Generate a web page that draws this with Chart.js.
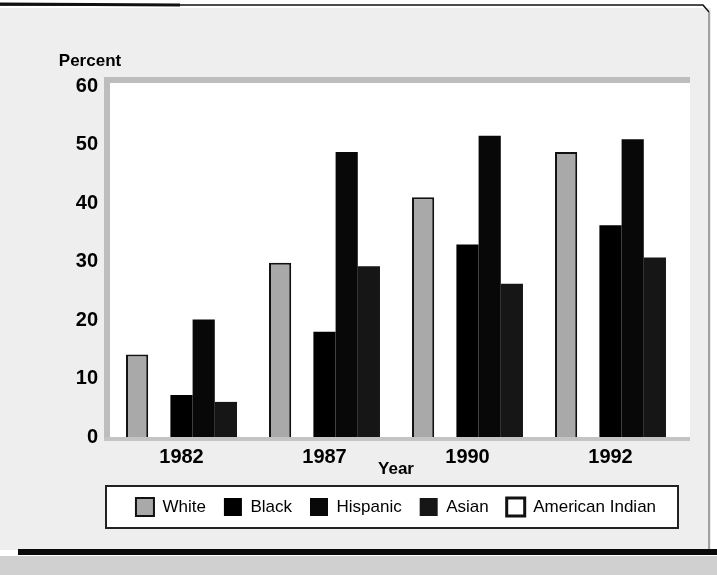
<!DOCTYPE html>
<html>
<head>
<meta charset="utf-8">
<script src="https://cdn.jsdelivr.net/npm/chart.js@4/dist/chart.umd.min.js"></script>
<style>
html,body{margin:0;padding:0;background:#fff;}
canvas{display:block;}
</style>
</head>
<body>
<canvas id="c" width="717" height="575"></canvas>
<script>
// ---- data ----
const years = ['1982', '1987', '1990', '1992'];
const white = [14.1, 29.8, 41.0, 48.7];
const americanIndian = [null, null, null, null];
const black = [7.2, 18.0, 32.9, 36.2];
const hispanic = [20.1, 48.7, 51.5, 50.9];
const asian = [6.0, 29.2, 26.2, 30.7];
const yMin = 0, yMax = 60, yStep = 10;
const yAxisLabel = 'Percent';
const xAxisLabel = 'Year';
// legend order as in the original
const legendRank = [0, 4, 1, 2, 3];

const FONT = '"Liberation Sans", Arial, Helvetica, sans-serif';

const decor = {
  id: 'decor',
  beforeDraw(chart) {
    const {ctx, chartArea: a, width, height} = chart;
    ctx.save();
    ctx.fillStyle = '#ffffff';
    ctx.fillRect(0, 0, width, height);
    // speckled outer area
    ctx.fillStyle = '#eeeeee';
    ctx.fillRect(0, 8, width - 6, 542);
    // plot panel
    ctx.fillStyle = '#bdbdbd';
    ctx.fillRect(a.left - 6, a.top - 9, a.right - a.left + 14, 6);
    ctx.fillRect(a.left - 6, a.top - 9, 6, a.bottom - a.top + 9);
    ctx.fillStyle = '#ffffff';
    ctx.fillRect(a.left, a.top - 3, a.right - a.left + 8, a.bottom - a.top + 3);
    ctx.fillStyle = '#c4c4c4';
    ctx.fillRect(a.left - 6, a.bottom, a.right - a.left + 14, 4);
    // legend box
    const lg = chart.legend;
    if (lg && lg.legendHitBoxes && lg.legendHitBoxes.length) {
      const hb = lg.legendHitBoxes[0];
      const cy = hb.top + hb.height / 2;
      ctx.fillStyle = '#ffffff';
      ctx.fillRect(a.left - 4, cy - 21, a.right - a.left, 42);
      ctx.strokeStyle = '#222';
      ctx.lineWidth = 2;
      ctx.strokeRect(a.left - 4, cy - 21, a.right - a.left, 42);
    }
    ctx.restore();
  },
  afterDraw(chart) {
    const {ctx, chartArea: a, width} = chart;
    ctx.save();
    // axis label "Percent"
    ctx.fillStyle = '#000';
    ctx.font = 'bold 17px ' + FONT;
    ctx.textAlign = 'center';
    ctx.textBaseline = 'middle';
    ctx.fillText(yAxisLabel, a.left - 20, a.top - 25);
    // page frame lines
    ctx.strokeStyle = '#111';
    ctx.lineWidth = 1.5;
    ctx.beginPath();
    ctx.moveTo(0, 5); ctx.lineTo(width - 14, 5); ctx.lineTo(width - 8, 12);
    ctx.stroke();
    ctx.lineWidth = 3;
    ctx.beginPath();
    ctx.moveTo(0, 4); ctx.lineTo(180, 5);
    ctx.stroke();
    ctx.lineWidth = 1;
    ctx.strokeStyle = '#555';
    ctx.beginPath();
    ctx.moveTo(width - 8, 12); ctx.lineTo(width - 8, 550);
    ctx.stroke();
    ctx.fillStyle = '#0a0a0a';
    ctx.fillRect(18, 549, width - 18, 6);
    ctx.fillStyle = '#d0d0d0';
    ctx.fillRect(0, 556, width, 19);
    ctx.restore();
  }
};

new Chart(document.getElementById('c'), {
  type: 'bar',
  data: {
    labels: years,
    datasets: [
      {label: 'White', data: white, backgroundColor: '#a9a9a9', borderColor: '#111', borderWidth: 2},
      {label: 'American Indian', data: americanIndian, backgroundColor: '#ffffff', borderColor: '#111', borderWidth: 3},
      {label: 'Black', data: black, backgroundColor: '#000000', borderColor: '#000', borderWidth: 0},
      {label: 'Hispanic', data: hispanic, backgroundColor: '#080808', borderColor: '#000', borderWidth: 0},
      {label: 'Asian', data: asian, backgroundColor: '#161616', borderColor: '#000', borderWidth: 0}
    ]
  },
  options: {
    responsive: false,
    animation: false,
    devicePixelRatio: 1,
    layout: {padding: {left: 20, right: 35, top: 86, bottom: 49}},
    datasets: {bar: {categoryPercentage: 0.776, barPercentage: 1.0}},
    plugins: {
      legend: {
        position: 'bottom',
        fullSize: false,
        labels: {
          font: {family: FONT, size: 17},
          color: '#000',
          boxWidth: 18,
          boxHeight: 18,
          padding: 18,
          sort: (p, q) => legendRank[p.datasetIndex] - legendRank[q.datasetIndex]
        }
      },
      tooltip: {enabled: false}
    },
    scales: {
      x: {
        grid: {display: false, drawTicks: false},
        border: {display: false},
        ticks: {font: {family: FONT, size: 20, weight: 'bold'}, color: '#000', padding: 8},
        title: {display: true, text: xAxisLabel, color: '#000',
                font: {family: FONT, size: 17, weight: 'bold'}, padding: {top: 0, bottom: 0}},
        afterFit: s => { s.height = 43; }
      },
      y: {
        min: yMin, max: yMax,
        grid: {display: false, drawTicks: false},
        border: {display: false},
        ticks: {stepSize: yStep, font: {family: FONT, size: 20, weight: 'bold'}, color: '#000', padding: 12},
        afterFit: s => { s.width = 90; }
      }
    }
  },
  plugins: [decor]
});
</script>
</body>
</html>
